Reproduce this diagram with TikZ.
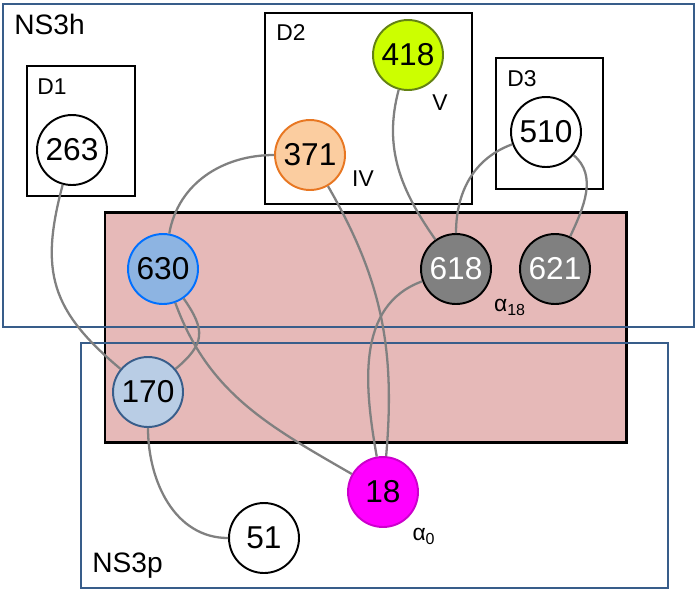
\documentclass[tikz,border=0pt]{standalone}
\usepackage{fontspec}
\setmainfont{Liberation Sans}
\definecolor{nsblue}{RGB}{56, 93, 138}
\definecolor{pinkbg}{RGB}{230, 185, 184}
\definecolor{linkgray}{RGB}{128, 128, 128}
\definecolor{orangefill}{RGB}{251, 205, 160}
\definecolor{orangeline}{RGB}{232, 119, 34}
\definecolor{limefill}{RGB}{204, 255, 0}
\definecolor{limeline}{RGB}{100, 130, 20}
\definecolor{bluefill}{RGB}{141, 180, 226}
\definecolor{blueline}{RGB}{0, 112, 255}
\definecolor{palefill}{RGB}{185, 205, 229}
\definecolor{resgray}{RGB}{128, 128, 128}
\definecolor{magfill}{RGB}{255, 0, 255}
\usetikzlibrary{positioning}

\begin{document}
\begin{tikzpicture}[x=0.02cm, y=0.02cm,
  res/.style={circle, draw, line width=1.1pt, minimum size=1.4cm, inner sep=0pt, font=\fontsize{18}{20}\selectfont},
  link/.style={draw=linkgray, line width=1.3pt},
  nsbox/.style={draw=nsblue, line width=1.3pt},
  dombox/.style={draw, line width=0.6pt},
  nslabel/.style={anchor=west, inner sep=0pt, font=\fontsize{16}{18}\selectfont},
  tag/.style={inner sep=0pt, font=\fontsize{13}{15}\selectfont}
]
  \useasboundingbox (0,0) rectangle (700,-593);
  \fill[white] (0,0) rectangle (700,-593);
  \filldraw[fill=pinkbg, draw=black, line width=1.7pt] (105,-212) rectangle (626,-442);
  \draw[nsbox] (3,-4) rectangle (694,-327);
  \draw[nsbox] (81,-343) rectangle (668,-588);
  \draw[dombox] (27,-66) rectangle (135,-196);
  \draw[dombox] (265,-13) rectangle (472,-204);
  \draw[dombox] (496,-58) rectangle (603,-189);

  \node[nslabel] (ns3h) at (14,-24) {NS3h};
  \node[nslabel] (ns3p) at (92,-566) {NS3p};
  \node[nslabel, font=\fontsize{13}{15}\selectfont] (d1) at (37,-87) {D1};
  \node[nslabel, font=\fontsize{13}{15}\selectfont] (d2) at (276,-33) {D2};
  \node[nslabel, font=\fontsize{13}{15}\selectfont] (d3) at (507,-79) {D3};

  \node[res, fill=white] (n263) at (72,-150) {263};
  \node[res, fill=orangefill, draw=orangeline] (n371) at (310,-155) {371};
  \node[res, fill=limefill, draw=limeline] (n418) at (408,-55) {418};
  \node[res, fill=white] (n510) at (546,-132) {510};
  \node[res, fill=bluefill, draw=blueline] (n630) at (163,-269) {630};
  \node[res, fill=resgray, text=white] (n618) at (456,-269) {618};
  \node[res, fill=resgray, text=white] (n621) at (555,-269) {621};
  \node[res, fill=palefill, draw=nsblue] (n170) at (148,-392) {170};
  \node[res, fill=magfill, draw=magfill!80!black] (n18) at (383,-492) {18};
  \node[res, fill=white] (n51) at (264,-538) {51};

  \node[tag] (iv) at (363,-179) {IV};
  \node[tag] (v) at (440,-103) {V};
  \node[tag] (a18) at (510,-307) {α\textsubscript{18}};
  \node[tag] (a0) at (424,-536) {α\textsubscript{0}};

  \draw[link] (n263) to[out=-105, in=140, looseness=1.2] (n170);
  \draw[link] (n371) to[out=180, in=80] (n630);
  \draw[link] (n371) to[out=-60, in=85] (n18);
  \draw[link] (n418) to[out=-105, in=125] (n618);
  \draw[link] (n510) to[out=200, in=90] (n618);
  \draw[link] (n510) to[out=-40, in=65] (n621);
  \draw[link] (n618) to[out=200, in=100] (n18);
  \draw[link] (n630) to[out=-55, in=40, looseness=1.4] (n170);
  \draw[link] (n630) to[out=-70, in=150] (n18);
  \draw[link] (n170) to[out=-90, in=180] (n51);
\end{tikzpicture}
\end{document}
